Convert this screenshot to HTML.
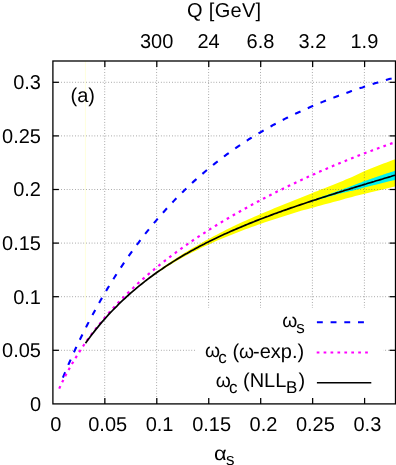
<!DOCTYPE html>
<html><head><meta charset="utf-8">
<style>
html,body{margin:0;padding:0;background:#fff;}
body{width:396px;height:465px;overflow:hidden;}
svg{display:block;}
text{text-rendering:geometricPrecision;}
text{font-family:"Liberation Sans",sans-serif;font-size:20px;fill:#000;}
.sub{font-size:17px;}
.om{font-size:19.3px;}
.al{font-size:19.4px;}
</style></head>
<body>
<svg width="396" height="465" viewBox="0 0 396 465">
<rect x="0" y="0" width="396" height="465" fill="#fff"/>
<line x1="85.4" y1="61.0" x2="85.4" y2="342" stroke="#ffff70" stroke-width="0.25"/>
<clipPath id="cp"><rect x="52.9" y="61.0" width="342.6" height="342.9"/></clipPath>
<g clip-path="url(#cp)">
<path d="M85.5,343.2 L88.6,338.9 L91.8,334.7 L94.9,330.6 L98.0,326.7 L101.2,323.0 L104.3,319.3 L107.5,315.8 L110.6,312.4 L113.7,309.1 L116.9,305.8 L120.0,302.7 L123.1,299.7 L126.3,296.7 L129.4,293.9 L132.5,291.1 L135.7,288.3 L138.8,285.7 L142.0,283.1 L145.1,280.5 L148.2,278.1 L151.4,275.7 L154.5,273.3 L157.6,271.0 L160.8,268.7 L163.9,266.5 L167.0,264.3 L170.2,262.2 L173.3,260.1 L176.5,258.0 L179.6,256.0 L182.7,254.0 L185.9,252.1 L189.0,250.2 L192.1,248.3 L195.3,246.5 L198.4,244.7 L201.5,242.9 L204.7,241.1 L207.8,239.4 L211.0,237.7 L214.1,236.1 L217.2,234.4 L220.4,232.8 L223.5,231.2 L226.6,229.6 L229.8,228.1 L232.9,226.6 L236.0,225.1 L239.2,223.6 L242.3,222.1 L245.5,220.7 L248.6,219.3 L251.7,217.9 L254.9,216.5 L258.0,215.2 L261.1,213.8 L264.3,212.5 L267.4,211.2 L270.5,209.9 L273.7,208.6 L276.8,207.3 L280.0,206.1 L283.1,204.8 L286.2,203.6 L289.4,202.3 L292.5,201.1 L295.6,199.8 L298.8,198.6 L301.9,197.3 L305.0,196.0 L308.2,194.7 L311.3,193.4 L314.5,192.1 L317.6,190.9 L320.7,189.6 L323.9,188.4 L327.0,187.2 L330.1,186.0 L333.3,184.7 L336.4,183.5 L339.5,182.2 L342.7,180.9 L345.8,179.6 L349.0,178.3 L352.1,176.9 L355.2,175.5 L358.4,174.1 L361.5,172.6 L364.6,171.1 L367.8,169.8 L370.9,168.5 L374.0,167.2 L377.2,166.0 L380.3,164.8 L383.5,163.6 L386.6,162.4 L389.7,161.3 L392.9,160.1 L396.0,159.0 L396.0,186.3 L392.9,187.0 L389.7,187.8 L386.6,188.5 L383.5,189.2 L380.3,189.9 L377.2,190.7 L374.0,191.4 L370.9,192.2 L367.8,192.9 L364.6,193.7 L361.5,194.4 L358.4,195.2 L355.2,196.0 L352.1,196.9 L349.0,197.7 L345.8,198.6 L342.7,199.5 L339.5,200.4 L336.4,201.2 L333.3,202.1 L330.1,202.9 L327.0,203.8 L323.9,204.6 L320.7,205.5 L317.6,206.3 L314.5,207.2 L311.3,208.0 L308.2,208.9 L305.0,209.8 L301.9,210.6 L298.8,211.5 L295.6,212.5 L292.5,213.4 L289.4,214.4 L286.2,215.4 L283.1,216.4 L280.0,217.4 L276.8,218.4 L273.7,219.4 L270.5,220.5 L267.4,221.5 L264.3,222.6 L261.1,223.7 L258.0,224.8 L254.9,225.9 L251.7,227.0 L248.6,228.2 L245.5,229.3 L242.3,230.5 L239.2,231.7 L236.0,232.9 L232.9,234.2 L229.8,235.4 L226.6,236.7 L223.5,238.0 L220.4,239.3 L217.2,240.6 L214.1,242.0 L211.0,243.4 L207.8,244.9 L204.7,246.3 L201.5,247.8 L198.4,249.4 L195.3,250.9 L192.1,252.5 L189.0,254.1 L185.9,255.8 L182.7,257.5 L179.6,259.3 L176.5,261.0 L173.3,262.9 L170.2,264.8 L167.0,266.7 L163.9,268.7 L160.8,270.7 L157.6,272.8 L154.5,275.0 L151.4,277.2 L148.2,279.5 L145.1,281.8 L142.0,284.3 L138.8,286.7 L135.7,289.3 L132.5,291.9 L129.4,294.6 L126.3,297.4 L123.1,300.3 L120.0,303.2 L116.9,306.3 L113.7,309.4 L110.6,312.7 L107.5,316.0 L104.3,319.5 L101.2,323.1 L98.0,326.8 L94.9,330.7 L91.8,334.7 L88.6,338.9 L85.5,343.2Z" fill="#ffff00"/>
<path d="M300.0,204.9 L301.0,204.5 L301.9,204.2 L302.9,203.8 L303.9,203.4 L304.8,203.1 L305.8,202.7 L306.8,202.3 L307.8,201.9 L308.7,201.6 L309.7,201.2 L310.7,200.8 L311.6,200.5 L312.6,200.1 L313.6,199.7 L314.5,199.4 L315.5,199.0 L316.5,198.7 L317.5,198.3 L318.4,198.0 L319.4,197.6 L320.4,197.3 L321.3,196.9 L322.3,196.6 L323.3,196.2 L324.2,195.9 L325.2,195.6 L326.2,195.2 L327.2,194.9 L328.1,194.5 L329.1,194.2 L330.1,193.9 L331.0,193.5 L332.0,193.2 L333.0,192.8 L333.9,192.5 L334.9,192.2 L335.9,191.8 L336.8,191.5 L337.8,191.1 L338.8,190.8 L339.8,190.4 L340.7,190.1 L341.7,189.7 L342.7,189.4 L343.6,189.0 L344.6,188.6 L345.6,188.3 L346.5,187.9 L347.5,187.5 L348.5,187.2 L349.5,186.8 L350.4,186.4 L351.4,186.1 L352.4,185.7 L353.3,185.3 L354.3,184.9 L355.3,184.6 L356.2,184.2 L357.2,183.8 L358.2,183.5 L359.2,183.1 L360.1,182.7 L361.1,182.4 L362.1,182.0 L363.0,181.6 L364.0,181.3 L365.0,180.9 L365.9,180.6 L366.9,180.3 L367.9,179.9 L368.8,179.6 L369.8,179.2 L370.8,178.9 L371.8,178.6 L372.7,178.2 L373.7,177.9 L374.7,177.5 L375.6,177.2 L376.6,176.9 L377.6,176.5 L378.5,176.2 L379.5,175.9 L380.5,175.5 L381.5,175.2 L382.4,174.9 L383.4,174.6 L384.4,174.2 L385.3,173.9 L386.3,173.6 L387.3,173.3 L388.2,173.0 L389.2,172.7 L390.2,172.3 L391.2,172.0 L392.1,171.7 L393.1,171.4 L394.1,171.1 L395.0,170.8 L396.0,170.5 L396.0,179.7 L395.0,179.9 L394.1,180.2 L393.1,180.4 L392.1,180.6 L391.2,180.9 L390.2,181.1 L389.2,181.3 L388.2,181.6 L387.3,181.8 L386.3,182.0 L385.3,182.3 L384.4,182.5 L383.4,182.7 L382.4,183.0 L381.5,183.2 L380.5,183.4 L379.5,183.7 L378.5,183.9 L377.6,184.2 L376.6,184.4 L375.6,184.7 L374.7,184.9 L373.7,185.1 L372.7,185.4 L371.8,185.6 L370.8,185.9 L369.8,186.1 L368.8,186.4 L367.9,186.6 L366.9,186.9 L365.9,187.1 L365.0,187.4 L364.0,187.6 L363.0,187.9 L362.1,188.2 L361.1,188.4 L360.1,188.7 L359.2,189.0 L358.2,189.2 L357.2,189.5 L356.2,189.7 L355.3,190.0 L354.3,190.2 L353.3,190.5 L352.4,190.7 L351.4,190.9 L350.4,191.1 L349.5,191.3 L348.5,191.6 L347.5,191.8 L346.5,192.0 L345.6,192.2 L344.6,192.4 L343.6,192.6 L342.7,192.9 L341.7,193.1 L340.7,193.4 L339.8,193.6 L338.8,193.9 L337.8,194.1 L336.8,194.4 L335.9,194.6 L334.9,194.9 L333.9,195.2 L333.0,195.4 L332.0,195.7 L331.0,196.0 L330.1,196.3 L329.1,196.5 L328.1,196.8 L327.2,197.1 L326.2,197.4 L325.2,197.7 L324.2,197.9 L323.3,198.2 L322.3,198.5 L321.3,198.8 L320.4,199.1 L319.4,199.3 L318.4,199.6 L317.5,199.9 L316.5,200.2 L315.5,200.5 L314.5,200.7 L313.6,201.0 L312.6,201.3 L311.6,201.6 L310.7,201.8 L309.7,202.1 L308.7,202.4 L307.8,202.6 L306.8,202.9 L305.8,203.2 L304.8,203.4 L303.9,203.7 L302.9,204.0 L301.9,204.3 L301.0,204.6 L300.0,204.9Z" fill="#00f0f0"/>
</g>
<g stroke="#606060" stroke-width="0.7" stroke-dasharray="0.75 2.02" fill="none">
<line x1="104.7" y1="61.0" x2="104.7" y2="403.9"/>
<line x1="156.6" y1="61.0" x2="156.6" y2="403.9"/>
<line x1="208.6" y1="61.0" x2="208.6" y2="403.9"/>
<line x1="260.5" y1="61.0" x2="260.5" y2="403.9"/>
<line x1="312.4" y1="61.0" x2="312.4" y2="403.9"/>
<line x1="364.4" y1="61.0" x2="364.4" y2="403.9"/>
<line x1="52.9" y1="350.3" x2="395.5" y2="350.3"/>
<line x1="52.9" y1="296.7" x2="395.5" y2="296.7"/>
<line x1="52.9" y1="243.1" x2="395.5" y2="243.1"/>
<line x1="52.9" y1="189.5" x2="395.5" y2="189.5"/>
<line x1="52.9" y1="135.9" x2="395.5" y2="135.9"/>
<line x1="52.9" y1="82.3" x2="395.5" y2="82.3"/>
</g>
<rect x="195.5" y="308" width="188" height="91" fill="#fff"/>
<g clip-path="url(#cp)">
<path d="M62.9,377.7 L65.1,372.4 L67.3,367.1 L69.6,362.0 L71.8,357.0 L74.0,352.1 L76.2,347.3 L78.4,342.6 L80.7,338.0 L82.9,333.5 L85.1,329.1 L87.3,324.8 L89.5,320.5 L91.8,316.3 L94.0,312.2 L96.2,308.1 L98.4,304.2 L100.6,300.3 L102.9,296.4 L105.1,292.7 L107.3,288.9 L109.5,285.3 L111.7,281.7 L113.9,278.2 L116.2,274.7 L118.4,271.3 L120.6,267.9 L122.8,264.6 L125.0,261.3 L127.3,258.1 L129.5,254.9 L131.7,251.8 L133.9,248.8 L136.1,245.8 L138.4,242.8 L140.6,239.9 L142.8,237.0 L145.0,234.1 L147.2,231.3 L149.5,228.6 L151.7,225.9 L153.9,223.2 L156.1,220.6 L158.3,218.0 L160.6,215.4 L162.8,212.9 L165.0,210.5 L167.2,208.0 L169.4,205.6 L171.7,203.3 L173.9,200.9 L176.1,198.6 L178.3,196.4 L180.5,194.1 L182.8,191.9 L185.0,189.8 L187.2,187.6 L189.4,185.5 L191.6,183.5 L193.8,181.4 L196.1,179.4 L198.3,177.4 L200.5,175.5 L202.7,173.6 L204.9,171.7 L207.2,169.8 L209.4,168.0 L211.6,166.1 L213.8,164.4 L216.0,162.6 L218.3,160.9 L220.5,159.1 L222.7,157.5 L224.9,155.8 L227.1,154.2 L229.4,152.6 L231.6,151.0 L233.8,149.4 L236.0,147.9 L238.2,146.3 L240.5,144.8 L242.7,143.4 L244.9,141.9 L247.1,140.5 L249.3,139.0 L251.6,137.7 L253.8,136.3 L256.0,134.9 L258.2,133.6 L260.4,132.3 L262.7,131.0 L264.9,129.7 L267.1,128.4 L269.3,127.2 L271.5,126.0 L273.7,124.7 L276.0,123.6 L278.2,122.4 L280.4,121.2 L282.6,120.1 L284.8,118.9 L287.1,117.8 L289.3,116.7 L291.5,115.6 L293.7,114.6 L295.9,113.5 L298.2,112.5 L300.4,111.5 L302.6,110.4 L304.8,109.4 L307.0,108.5 L309.3,107.5 L311.5,106.5 L313.7,105.6 L315.9,104.6 L318.1,103.7 L320.4,102.8 L322.6,101.9 L324.8,101.0 L327.0,100.1 L329.2,99.3 L331.5,98.4 L333.7,97.6 L335.9,96.7 L338.1,95.9 L340.3,95.1 L342.6,94.3 L344.8,93.5 L347.0,92.7 L349.2,91.9 L351.4,91.1 L353.6,90.4 L355.9,89.6 L358.1,88.8 L360.3,88.1 L362.5,87.4 L364.7,86.6 L367.0,85.9 L369.2,85.2 L371.4,84.5 L373.6,83.8 L375.8,83.1 L378.1,82.4 L380.3,81.7 L382.5,81.0 L384.7,80.4 L386.9,79.7 L389.2,79.0 L391.4,78.4 L393.6,77.7" fill="none" stroke="#0000ff" stroke-width="2.1" stroke-dasharray="5.9 7.95"/>
<path d="M59.2,388.6 L61.4,383.8 L63.7,379.2 L65.9,374.8 L68.2,370.6 L70.4,366.6 L72.7,362.7 L74.9,358.9 L77.2,355.3 L79.4,351.8 L81.7,348.3 L83.9,345.0 L86.2,341.7 L88.4,338.6 L90.7,335.5 L92.9,332.5 L95.2,329.6 L97.4,326.7 L99.6,323.9 L101.9,321.1 L104.1,318.4 L106.4,315.8 L108.6,313.2 L110.9,310.7 L113.1,308.2 L115.4,305.8 L117.6,303.4 L119.9,301.0 L122.1,298.7 L124.4,296.4 L126.6,294.2 L128.9,292.0 L131.1,289.8 L133.4,287.7 L135.6,285.6 L137.8,283.5 L140.1,281.5 L142.3,279.5 L144.6,277.5 L146.8,275.6 L149.1,273.6 L151.3,271.7 L153.6,269.9 L155.8,268.0 L158.1,266.2 L160.3,264.4 L162.6,262.6 L164.8,260.8 L167.1,259.1 L169.3,257.4 L171.5,255.7 L173.8,254.0 L176.0,252.4 L178.3,250.7 L180.5,249.1 L182.8,247.5 L185.0,245.9 L187.3,244.3 L189.5,242.8 L191.8,241.2 L194.0,239.7 L196.3,238.2 L198.5,236.7 L200.8,235.2 L203.0,233.8 L205.3,232.3 L207.5,230.9 L209.7,229.4 L212.0,228.0 L214.2,226.6 L216.5,225.2 L218.7,223.9 L221.0,222.5 L223.2,221.1 L225.5,219.8 L227.7,218.5 L230.0,217.2 L232.2,215.8 L234.5,214.5 L236.7,213.3 L239.0,212.0 L241.2,210.7 L243.5,209.5 L245.7,208.2 L247.9,207.0 L250.2,205.7 L252.4,204.5 L254.7,203.3 L256.9,202.1 L259.2,200.9 L261.4,199.7 L263.7,198.5 L265.9,197.4 L268.2,196.2 L270.4,195.1 L272.7,193.9 L274.9,192.8 L277.2,191.6 L279.4,190.5 L281.7,189.4 L283.9,188.3 L286.1,187.2 L288.4,186.1 L290.6,185.0 L292.9,184.0 L295.1,182.9 L297.4,181.8 L299.6,180.8 L301.9,179.7 L304.1,178.7 L306.4,177.7 L308.6,176.6 L310.9,175.6 L313.1,174.6 L315.4,173.6 L317.6,172.6 L319.8,171.6 L322.1,170.6 L324.3,169.7 L326.6,168.7 L328.8,167.7 L331.1,166.8 L333.3,165.8 L335.6,164.9 L337.8,163.9 L340.1,163.0 L342.3,162.1 L344.6,161.2 L346.8,160.3 L349.1,159.4 L351.3,158.5 L353.6,157.6 L355.8,156.7 L358.0,155.8 L360.3,154.9 L362.5,154.1 L364.8,153.2 L367.0,152.4 L369.3,151.5 L371.5,150.7 L373.8,149.8 L376.0,149.0 L378.3,148.2 L380.5,147.4 L382.8,146.6 L385.0,145.8 L387.3,145.0 L389.5,144.2 L391.8,143.4 L394.0,142.7" fill="none" stroke="#ff00ff" stroke-width="2.2" stroke-dasharray="2.7 4.22"/>
<path d="M85.5,343.2 L87.6,340.3 L89.7,337.5 L91.7,334.7 L93.8,332.1 L95.9,329.4 L98.0,326.9 L100.0,324.4 L102.1,321.9 L104.2,319.6 L106.3,317.2 L108.3,314.9 L110.4,312.7 L112.5,310.5 L114.6,308.4 L116.7,306.3 L118.7,304.2 L120.8,302.2 L122.9,300.2 L125.0,298.3 L127.0,296.4 L129.1,294.5 L131.2,292.7 L133.3,290.9 L135.4,289.1 L137.4,287.3 L139.5,285.6 L141.6,284.0 L143.7,282.3 L145.7,280.7 L147.8,279.1 L149.9,277.5 L152.0,276.0 L154.0,274.5 L156.1,273.0 L158.2,271.5 L160.3,270.1 L162.4,268.7 L164.4,267.3 L166.5,265.9 L168.6,264.5 L170.7,263.2 L172.7,261.9 L174.8,260.6 L176.9,259.3 L179.0,258.0 L181.1,256.8 L183.1,255.6 L185.2,254.3 L187.3,253.2 L189.4,252.0 L191.4,250.8 L193.5,249.7 L195.6,248.5 L197.7,247.4 L199.7,246.3 L201.8,245.2 L203.9,244.2 L206.0,243.1 L208.1,242.1 L210.1,241.0 L212.2,240.0 L214.3,239.0 L216.4,238.0 L218.4,237.0 L220.5,236.0 L222.6,235.1 L224.7,234.1 L226.7,233.2 L228.8,232.3 L230.9,231.3 L233.0,230.4 L235.1,229.5 L237.1,228.6 L239.2,227.7 L241.3,226.9 L243.4,226.0 L245.4,225.1 L247.5,224.3 L249.6,223.4 L251.7,222.6 L253.8,221.8 L255.8,220.9 L257.9,220.1 L260.0,219.3 L262.1,218.5 L264.1,217.7 L266.2,216.9 L268.3,216.2 L270.4,215.4 L272.4,214.6 L274.5,213.8 L276.6,213.1 L278.7,212.3 L280.8,211.6 L282.8,210.8 L284.9,210.1 L287.0,209.4 L289.1,208.6 L291.1,207.9 L293.2,207.2 L295.3,206.5 L297.4,205.8 L299.4,205.1 L301.5,204.4 L303.6,203.7 L305.7,203.0 L307.8,202.3 L309.8,201.6 L311.9,200.9 L314.0,200.2 L316.1,199.6 L318.1,198.9 L320.2,198.2 L322.3,197.5 L324.4,196.9 L326.5,196.2 L328.5,195.5 L330.6,194.9 L332.7,194.2 L334.8,193.6 L336.8,192.9 L338.9,192.3 L341.0,191.6 L343.1,191.0 L345.1,190.3 L347.2,189.7 L349.3,189.1 L351.4,188.4 L353.5,187.8 L355.5,187.1 L357.6,186.5 L359.7,185.9 L361.8,185.2 L363.8,184.6 L365.9,184.0 L368.0,183.3 L370.1,182.7 L372.2,182.1 L374.2,181.5 L376.3,180.8 L378.4,180.2 L380.5,179.6 L382.5,179.0 L384.6,178.3 L386.7,177.7 L388.8,177.1 L390.8,176.5 L392.9,175.8 L395.0,175.2" fill="none" stroke="#000" stroke-width="1.7"/>
</g>
<g stroke="#000" stroke-width="1.25" fill="none">
<line x1="104.85" y1="403.9" x2="104.85" y2="397.9"/>
<line x1="104.85" y1="61.0" x2="104.85" y2="67.0"/>
<line x1="156.80" y1="403.9" x2="156.80" y2="397.9"/>
<line x1="156.80" y1="61.0" x2="156.80" y2="67.0"/>
<line x1="208.75" y1="403.9" x2="208.75" y2="397.9"/>
<line x1="208.75" y1="61.0" x2="208.75" y2="67.0"/>
<line x1="260.70" y1="403.9" x2="260.70" y2="397.9"/>
<line x1="260.70" y1="61.0" x2="260.70" y2="67.0"/>
<line x1="312.65" y1="403.9" x2="312.65" y2="397.9"/>
<line x1="312.65" y1="61.0" x2="312.65" y2="67.0"/>
<line x1="364.60" y1="403.9" x2="364.60" y2="397.9"/>
<line x1="364.60" y1="61.0" x2="364.60" y2="67.0"/>
<line x1="52.9" y1="350.3" x2="58.9" y2="350.3"/>
<line x1="395.5" y1="350.3" x2="389.5" y2="350.3"/>
<line x1="52.9" y1="296.7" x2="58.9" y2="296.7"/>
<line x1="395.5" y1="296.7" x2="389.5" y2="296.7"/>
<line x1="52.9" y1="243.1" x2="58.9" y2="243.1"/>
<line x1="395.5" y1="243.1" x2="389.5" y2="243.1"/>
<line x1="52.9" y1="189.5" x2="58.9" y2="189.5"/>
<line x1="395.5" y1="189.5" x2="389.5" y2="189.5"/>
<line x1="52.9" y1="135.9" x2="58.9" y2="135.9"/>
<line x1="395.5" y1="135.9" x2="389.5" y2="135.9"/>
<line x1="52.9" y1="82.3" x2="58.9" y2="82.3"/>
<line x1="395.5" y1="82.3" x2="389.5" y2="82.3"/>
<rect x="52.9" y="61.0" width="342.6" height="342.9" stroke-width="1.3"/>
</g>
<line x1="316.9" y1="322.2" x2="371.3" y2="322.2" stroke="#0000ff" stroke-width="2.1" stroke-dasharray="5.9 7.8"/>
<line x1="316.7" y1="352.5" x2="371.3" y2="352.5" stroke="#ff00ff" stroke-width="2.2" stroke-dasharray="2.7 4.22"/>
<line x1="316.9" y1="382.8" x2="371.3" y2="382.8" stroke="#000" stroke-width="1.6"/>
<g style="will-change:opacity;opacity:0.999">
<text class="om" x="282.2" y="327.0">ω</text><text class="sub" x="296.2" y="333.1">s</text>
<text class="om" x="205.0" y="357.3">ω</text><text class="sub" x="218.3" y="363.0">c</text><text x="232.4" y="357.5">(</text><text class="om" x="239.0" y="357.5">ω</text><text x="253.0" y="357.5">-exp.)</text>
<text class="om" x="215.7" y="387.2">ω</text><text class="sub" x="228.9" y="392.9">c</text><text x="243.0" y="387.4">(NLL</text><text class="sub" x="285.9" y="392.9">B</text><text x="298.4" y="387.4">)</text>
<text x="224.3" y="17" text-anchor="middle" style="letter-spacing:0.3px">Q [GeV]</text>
<text x="82.8" y="101.5" text-anchor="middle">(a)</text>
<text class="al" transform="translate(214.1,459.5) scale(1.13,1)" x="0" y="0">α</text><text class="sub" x="225.9" y="464.8">s</text>
<text x="55.7" y="431" text-anchor="middle">0</text>
<text x="107.7" y="431" text-anchor="middle">0.05</text>
<text x="159.6" y="431" text-anchor="middle">0.1</text>
<text x="211.6" y="431" text-anchor="middle">0.15</text>
<text x="263.5" y="431" text-anchor="middle">0.2</text>
<text x="315.4" y="431" text-anchor="middle">0.25</text>
<text x="367.4" y="431" text-anchor="middle">0.3</text>
<text x="41" y="410.8" text-anchor="end">0</text>
<text x="41" y="357.2" text-anchor="end">0.05</text>
<text x="41" y="303.6" text-anchor="end">0.1</text>
<text x="41" y="250.0" text-anchor="end">0.15</text>
<text x="41" y="196.4" text-anchor="end">0.2</text>
<text x="41" y="142.8" text-anchor="end">0.25</text>
<text x="41" y="89.2" text-anchor="end">0.3</text>
<text x="156.6" y="47.5" text-anchor="middle">300</text>
<text x="208.6" y="47.5" text-anchor="middle">24</text>
<text x="260.5" y="47.5" text-anchor="middle">6.8</text>
<text x="312.4" y="47.5" text-anchor="middle">3.2</text>
<text x="364.4" y="47.5" text-anchor="middle">1.9</text>
</g>
</svg>
</body></html>
